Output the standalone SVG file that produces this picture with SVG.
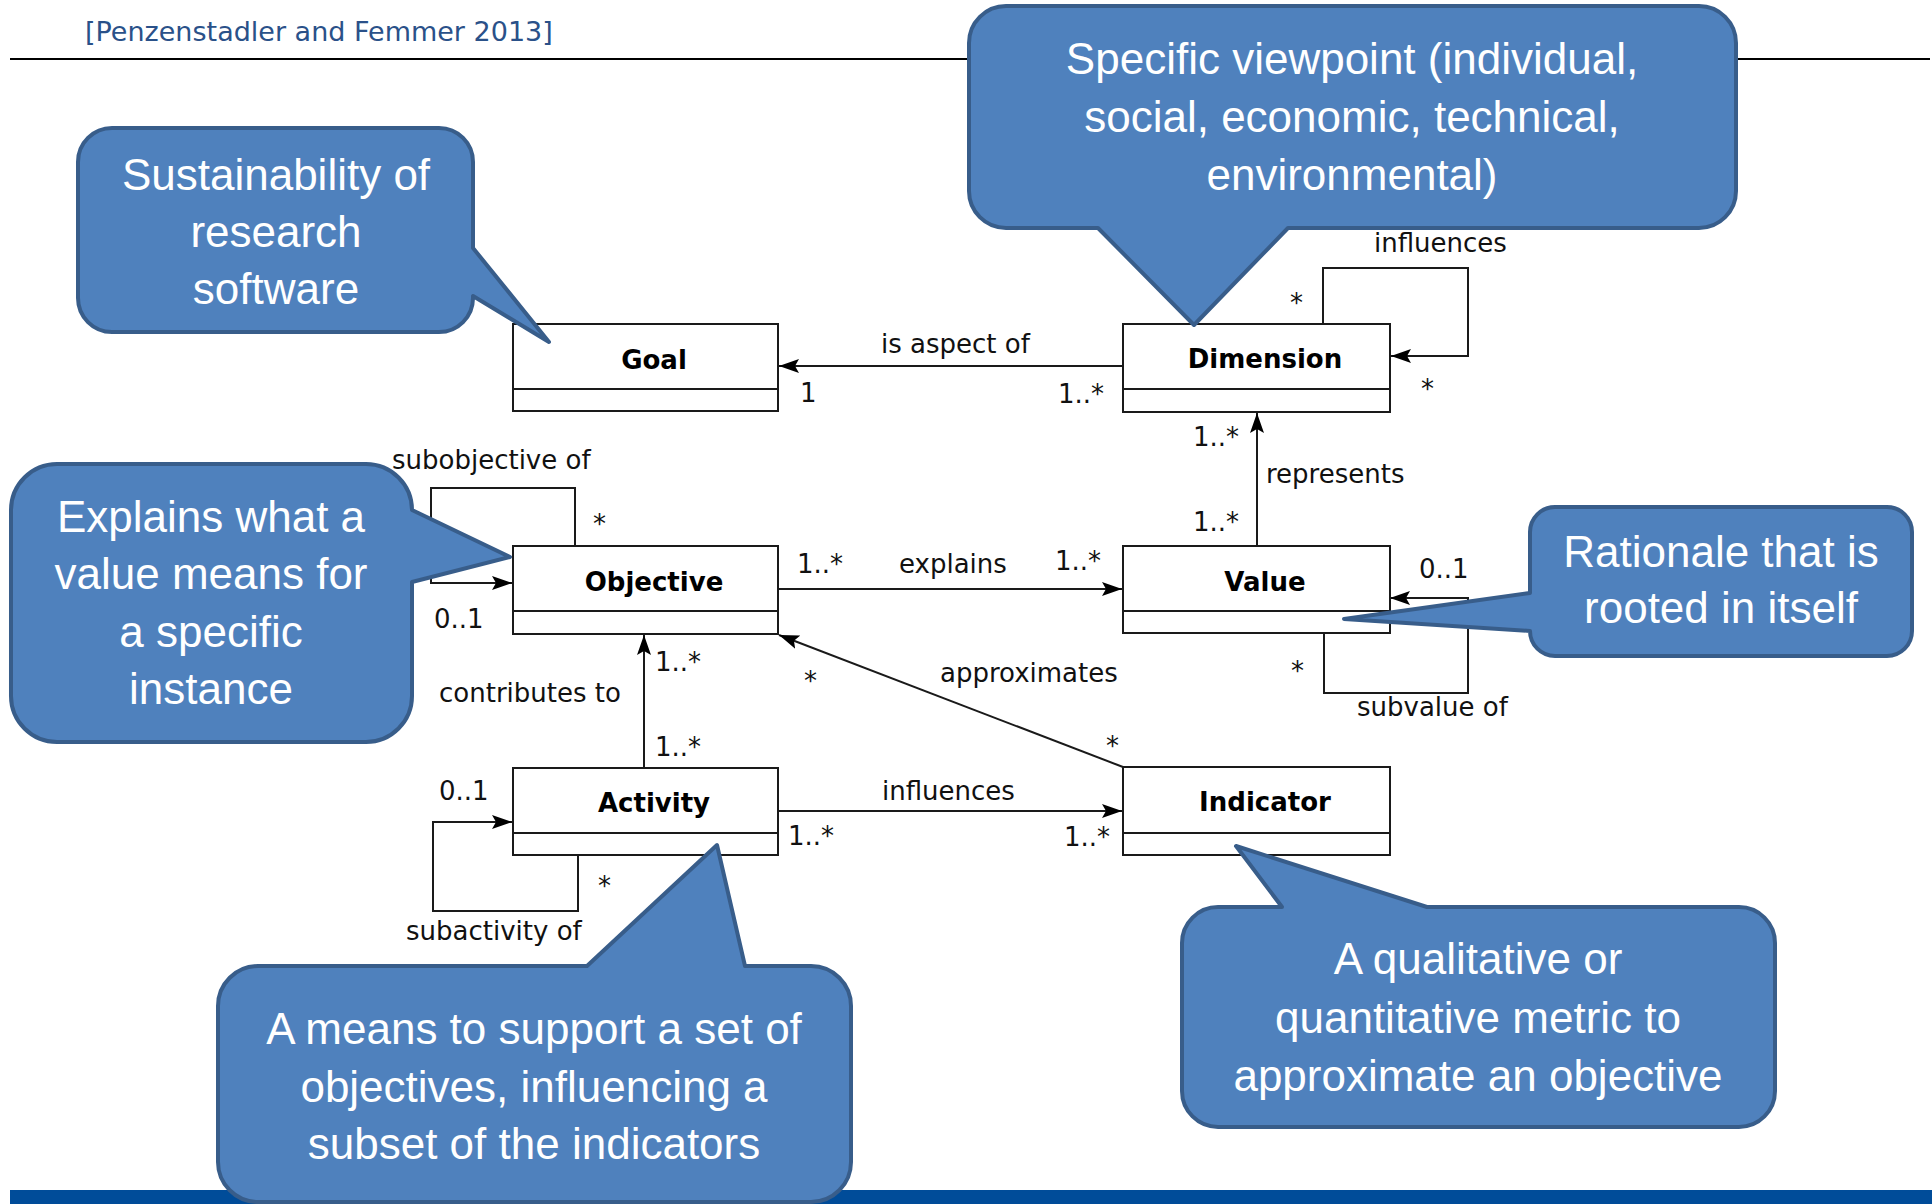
<svg xmlns="http://www.w3.org/2000/svg" width="1932" height="1204" viewBox="0 0 1932 1204">
<style>
.box{fill:#fff;stroke:#1a1a1a;stroke-width:2}
.name{font-family:"DejaVu Sans",Verdana,sans-serif;font-weight:bold;font-size:26px;fill:#000;text-anchor:middle}
.lbl{font-family:"DejaVu Sans",Verdana,sans-serif;font-size:26px;fill:#111}
.con{fill:none;stroke:#1a1a1a;stroke-width:2}
.co{fill:#4F81BD;stroke:#385D8A;stroke-width:4;stroke-linejoin:round}
.ct{font-family:"Liberation Sans",Arial,sans-serif;font-size:44px;fill:#fff;text-anchor:middle}
</style>
<defs>
<marker id="arr" markerWidth="22" markerHeight="16" refX="20" refY="8" orient="auto" markerUnits="userSpaceOnUse">
<path d="M0,1 L20,8 L0,15 L4,8 Z" fill="#000"/>
</marker>
</defs>
<rect width="1932" height="1204" fill="#fff"/>
<g id="header">
<text x="85" y="41" font-family="DejaVu Sans,Verdana,sans-serif" font-size="27" fill="#2A5189">[Penzenstadler and Femmer 2013]</text>
<line x1="10" y1="59" x2="1930" y2="59" stroke="#000" stroke-width="2"/>
</g>
<rect id="bottom-bar" x="10" y="1190" width="1922" height="14" fill="#004C99"/>

<g id="connectors">
<path class="con" d="M1123,366 H779" marker-end="url(#arr)"/>
<path class="con" d="M1323,324 V268 H1468 V356 H1391" marker-end="url(#arr)"/>
<path class="con" d="M1257,546 V413" marker-end="url(#arr)"/>
<path class="con" d="M778,589 H1122" marker-end="url(#arr)"/>
<path class="con" d="M1324,633 V693 H1468 V598 H1390" marker-end="url(#arr)"/>
<path class="con" d="M1123,767 L779,635" marker-end="url(#arr)"/>
<path class="con" d="M644,767 V635" marker-end="url(#arr)"/>
<path class="con" d="M575,546 V488 H431 V583 H512" marker-end="url(#arr)"/>
<path class="con" d="M778,811 H1122" marker-end="url(#arr)"/>
<path class="con" d="M578,855 V911 H433 V822 H512" marker-end="url(#arr)"/>
<g class="lbl">
<text x="881" y="353">is aspect of</text>
<text x="800" y="402">1</text>
<text x="1058" y="403">1..*</text>
<text x="1374" y="252">influences</text>
<text x="1290" y="312">*</text>
<text x="1421" y="398">*</text>
<text x="1266" y="483">represents</text>
<text x="1193" y="446">1..*</text>
<text x="1193" y="531">1..*</text>
<text x="797" y="573">1..*</text>
<text x="899" y="573">explains</text>
<text x="1055" y="570">1..*</text>
<text x="1419" y="578">0..1</text>
<text x="1291" y="680">*</text>
<text x="1357" y="716">subvalue of</text>
<text x="940" y="682">approximates</text>
<text x="804" y="690">*</text>
<text x="1106" y="755">*</text>
<text x="882" y="800">influences</text>
<text x="788" y="845">1..*</text>
<text x="1064" y="846">1..*</text>
<text x="439" y="702">contributes to</text>
<text x="655" y="671">1..*</text>
<text x="655" y="756">1..*</text>
<text x="392" y="469">subobjective of</text>
<text x="593" y="533">*</text>
<text x="434" y="628">0..1</text>
<text x="406" y="940">subactivity of</text>
<text x="598" y="895">*</text>
<text x="439" y="800">0..1</text>
</g>
</g>

<g id="goal">
<rect class="box" x="513" y="324" width="265" height="87"/>
<line class="box" x1="513" y1="389" x2="778" y2="389"/>
<text class="name" x="654" y="369">Goal</text>
</g>
<g id="dimension">
<rect class="box" x="1123" y="324" width="267" height="88"/>
<line class="box" x1="1123" y1="389" x2="1390" y2="389"/>
<text class="name" x="1265" y="368">Dimension</text>
</g>
<g id="objective">
<rect class="box" x="513" y="546" width="265" height="88"/>
<line class="box" x1="513" y1="611" x2="778" y2="611"/>
<text class="name" x="654" y="591">Objective</text>
</g>
<g id="value">
<rect class="box" x="1123" y="546" width="267" height="87"/>
<line class="box" x1="1123" y1="611" x2="1390" y2="611"/>
<text class="name" x="1265" y="591">Value</text>
</g>
<g id="activity">
<rect class="box" x="513" y="768" width="265" height="87"/>
<line class="box" x1="513" y1="833" x2="778" y2="833"/>
<text class="name" x="654" y="812">Activity</text>
</g>
<g id="indicator">
<rect class="box" x="1123" y="767" width="267" height="88"/>
<line class="box" x1="1123" y1="833" x2="1390" y2="833"/>
<text class="name" x="1265" y="811">Indicator</text>
</g>

<g id="callout-goal">
<path class="co" d="M112,128 H439 A34,34 0 0 1 473,162 V248 L549,342 L473,296 V298 A34,34 0 0 1 439,332 H112 A34,34 0 0 1 78,298 V162 A34,34 0 0 1 112,128 Z"/>
<text class="ct" x="276" y="190">Sustainability of</text>
<text class="ct" x="276" y="247">research</text>
<text class="ct" x="276" y="304">software</text>
</g>
<g id="callout-dimension">
<path class="co" d="M1006,6 H1699 A37,37 0 0 1 1736,43 V191 A37,37 0 0 1 1699,228 H1288 L1194,325 L1098,228 H1006 A37,37 0 0 1 969,191 V43 A37,37 0 0 1 1006,6 Z"/>
<text class="ct" x="1352" y="74">Specific viewpoint (individual,</text>
<text class="ct" x="1352" y="132">social, economic, technical,</text>
<text class="ct" x="1352" y="190">environmental)</text>
</g>
<g id="callout-objective">
<path class="co" d="M57,464 H366 A46,46 0 0 1 412,510 L510,557 L412,582 V696 A46,46 0 0 1 366,742 H57 A46,46 0 0 1 11,696 V510 A46,46 0 0 1 57,464 Z"/>
<text class="ct" x="211" y="532">Explains what a</text>
<text class="ct" x="211" y="589">value means for</text>
<text class="ct" x="211" y="647">a specific</text>
<text class="ct" x="211" y="704">instance</text>
</g>
<g id="callout-value">
<path class="co" d="M1555,507 H1887 A25,25 0 0 1 1912,532 V631 A25,25 0 0 1 1887,656 H1555 A25,25 0 0 1 1530,631 L1344,619 L1530,593 V532 A25,25 0 0 1 1555,507 Z"/>
<text class="ct" x="1721" y="567">Rationale that is</text>
<text class="ct" x="1721" y="623">rooted in itself</text>
</g>
<g id="callout-activity">
<path class="co" d="M258,966 H587 L717,845 L745,966 H811 A40,40 0 0 1 851,1006 V1162 A40,40 0 0 1 811,1202 H258 A40,40 0 0 1 218,1162 V1006 A40,40 0 0 1 258,966 Z"/>
<text class="ct" x="534" y="1044">A means to support a set of</text>
<text class="ct" x="534" y="1102">objectives, influencing a</text>
<text class="ct" x="534" y="1159">subset of the indicators</text>
</g>
<g id="callout-indicator">
<path class="co" d="M1218,907 H1282 L1236,846 L1427,907 H1739 A36,36 0 0 1 1775,943 V1091 A36,36 0 0 1 1739,1127 H1218 A36,36 0 0 1 1182,1091 V943 A36,36 0 0 1 1218,907 Z"/>
<text class="ct" x="1478" y="974">A qualitative or</text>
<text class="ct" x="1478" y="1033">quantitative metric to</text>
<text class="ct" x="1478" y="1091">approximate an objective</text>
</g>
</svg>
